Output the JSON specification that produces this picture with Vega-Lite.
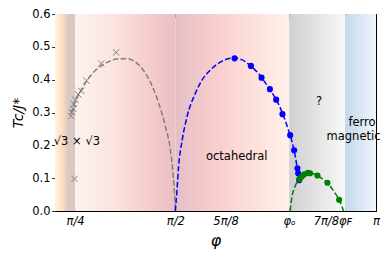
{
  "$schema": "https://vega.github.io/schema/vega-lite/v6.json",
  "width": 321,
  "height": 197,
  "autosize": {"type": "none"},
  "padding": {"left": 55, "top": 14, "right": 14, "bottom": 49},
  "config": {
    "view": {"stroke": null},
    "font": "DejaVu Sans",
    "axis": {
      "grid": false,
      "domainColor": "#000000",
      "domainWidth": 1,
      "tickColor": "#000000",
      "tickWidth": 0.8,
      "labelFontSize": 11.5,
      "labelColor": "#000000",
      "titleColor": "#000000",
      "labelFont": "DejaVu Sans",
      "titleFont": "DejaVu Sans",
      "titleFontWeight": "normal",
      "zindex": 1
    }
  },
  "datasets": {
    "regions": [
      {"region": "sqrt3", "start": 0.2, "end": 0.25},
      {"region": "low", "start": 0.25, "end": 0.5},
      {"region": "octa", "start": 0.5, "end": 0.7836},
      {"region": "unknown", "start": 0.7836, "end": 0.9229},
      {"region": "ferro", "start": 0.9229, "end": 1.0}
    ],
    "curves": [
      {"series": "gray", "phi": 0.240, "Tc": 0.295},
      {"series": "gray", "phi": 0.246, "Tc": 0.318},
      {"series": "gray", "phi": 0.252, "Tc": 0.338},
      {"series": "gray", "phi": 0.260, "Tc": 0.358},
      {"series": "gray", "phi": 0.270, "Tc": 0.378},
      {"series": "gray", "phi": 0.281, "Tc": 0.400},
      {"series": "gray", "phi": 0.298, "Tc": 0.425},
      {"series": "gray", "phi": 0.316, "Tc": 0.443},
      {"series": "gray", "phi": 0.336, "Tc": 0.456},
      {"series": "gray", "phi": 0.358, "Tc": 0.464},
      {"series": "gray", "phi": 0.380, "Tc": 0.464},
      {"series": "gray", "phi": 0.400, "Tc": 0.454},
      {"series": "gray", "phi": 0.413, "Tc": 0.440},
      {"series": "gray", "phi": 0.425, "Tc": 0.420},
      {"series": "gray", "phi": 0.438, "Tc": 0.392},
      {"series": "gray", "phi": 0.458, "Tc": 0.330},
      {"series": "gray", "phi": 0.475, "Tc": 0.258},
      {"series": "gray", "phi": 0.4876, "Tc": 0.186},
      {"series": "gray", "phi": 0.494, "Tc": 0.115},
      {"series": "gray", "phi": 0.498, "Tc": 0.054},
      {"series": "gray", "phi": 0.500, "Tc": 0.0},
      {"series": "blue", "phi": 0.500, "Tc": 0.0},
      {"series": "blue", "phi": 0.504, "Tc": 0.064},
      {"series": "blue", "phi": 0.508, "Tc": 0.135},
      {"series": "blue", "phi": 0.517, "Tc": 0.216},
      {"series": "blue", "phi": 0.529, "Tc": 0.287},
      {"series": "blue", "phi": 0.550, "Tc": 0.359},
      {"series": "blue", "phi": 0.567, "Tc": 0.400},
      {"series": "blue", "phi": 0.587, "Tc": 0.429},
      {"series": "blue", "phi": 0.610, "Tc": 0.452},
      {"series": "blue", "phi": 0.630, "Tc": 0.463},
      {"series": "blue", "phi": 0.648, "Tc": 0.466},
      {"series": "blue", "phi": 0.665, "Tc": 0.461},
      {"series": "blue", "phi": 0.687, "Tc": 0.443},
      {"series": "blue", "phi": 0.714, "Tc": 0.408},
      {"series": "blue", "phi": 0.734, "Tc": 0.372},
      {"series": "blue", "phi": 0.751, "Tc": 0.340},
      {"series": "blue", "phi": 0.767, "Tc": 0.298},
      {"series": "blue", "phi": 0.780, "Tc": 0.253},
      {"series": "blue", "phi": 0.792, "Tc": 0.205},
      {"series": "blue", "phi": 0.800, "Tc": 0.158},
      {"series": "blue", "phi": 0.805, "Tc": 0.120},
      {"series": "blue", "phi": 0.808, "Tc": 0.092},
      {"series": "green", "phi": 0.786, "Tc": 0.0},
      {"series": "green", "phi": 0.790, "Tc": 0.039},
      {"series": "green", "phi": 0.798, "Tc": 0.074},
      {"series": "green", "phi": 0.809, "Tc": 0.097},
      {"series": "green", "phi": 0.822, "Tc": 0.112},
      {"series": "green", "phi": 0.835, "Tc": 0.116},
      {"series": "green", "phi": 0.848, "Tc": 0.112},
      {"series": "green", "phi": 0.862, "Tc": 0.102},
      {"series": "green", "phi": 0.879, "Tc": 0.085},
      {"series": "green", "phi": 0.895, "Tc": 0.060},
      {"series": "green", "phi": 0.908, "Tc": 0.034},
      {"series": "green", "phi": 0.914, "Tc": 0.018},
      {"series": "green", "phi": 0.919, "Tc": 0.0}
    ],
    "points": [
      {"series": "gray", "phi": 0.2405, "Tc": 0.289},
      {"series": "gray", "phi": 0.2420, "Tc": 0.301},
      {"series": "gray", "phi": 0.2455, "Tc": 0.311},
      {"series": "gray", "phi": 0.2470, "Tc": 0.326},
      {"series": "gray", "phi": 0.2512, "Tc": 0.338},
      {"series": "gray", "phi": 0.2580, "Tc": 0.355},
      {"series": "gray", "phi": 0.2654, "Tc": 0.366},
      {"series": "gray", "phi": 0.2786, "Tc": 0.397},
      {"series": "gray", "phi": 0.3152, "Tc": 0.449},
      {"series": "gray", "phi": 0.3525, "Tc": 0.483},
      {"series": "gray", "phi": 0.2488, "Tc": 0.098},
      {"series": "blue", "phi": 0.6475, "Tc": 0.465},
      {"series": "blue", "phi": 0.6883, "Tc": 0.442},
      {"series": "blue", "phi": 0.7147, "Tc": 0.406},
      {"series": "blue", "phi": 0.7356, "Tc": 0.371},
      {"series": "blue", "phi": 0.7512, "Tc": 0.339},
      {"series": "blue", "phi": 0.7669, "Tc": 0.295},
      {"series": "blue", "phi": 0.7861, "Tc": 0.231},
      {"series": "blue", "phi": 0.7960, "Tc": 0.185},
      {"series": "blue", "phi": 0.8042, "Tc": 0.130},
      {"series": "blue", "phi": 0.8060, "Tc": 0.115},
      {"series": "blue", "phi": 0.8085, "Tc": 0.094},
      {"series": "green", "phi": 0.8092, "Tc": 0.097},
      {"series": "green", "phi": 0.8152, "Tc": 0.105},
      {"series": "green", "phi": 0.8216, "Tc": 0.112},
      {"series": "green", "phi": 0.8301, "Tc": 0.116},
      {"series": "green", "phi": 0.8358, "Tc": 0.115},
      {"series": "green", "phi": 0.8540, "Tc": 0.108},
      {"series": "green", "phi": 0.8789, "Tc": 0.086},
      {"series": "green", "phi": 0.9080, "Tc": 0.034}
    ],
    "labelsLeft": [
      {"label": "√3 × √3", "phi": 0.197, "Tc": 0.211}
    ],
    "labelsCenter": [
      {"label": "octahedral", "phi": 0.653, "Tc": 0.164},
      {"label": "?", "phi": 0.858, "Tc": 0.332},
      {"label": "ferro", "phi": 0.965, "Tc": 0.268},
      {"label": "magnetic", "phi": 0.944, "Tc": 0.226}
    ]
  },
  "layer": [
    {
      "data": {"name": "regions"},
      "transform": [{"filter": "datum.region == 'sqrt3'"}],
      "mark": {"type": "rect", "color": {"gradient": "linear", "x1": 0, "y1": 0, "x2": 1, "y2": 0, "stops": [
        {"offset": 0, "color": "#fdf3df"},
        {"offset": 0.3, "color": "#fce3c5"},
        {"offset": 0.5, "color": "#f1d3bd"},
        {"offset": 0.62, "color": "#dcc9c3"},
        {"offset": 1, "color": "#d8c7c3"}]}},
      "encoding": {
        "x": {"field": "start", "type": "quantitative", "scale": {"domain": [0.2, 1.0], "nice": false, "zero": false}, "axis": null},
        "x2": {"field": "end"},
        "y": {"datum": 0, "type": "quantitative", "scale": {"domain": [0, 0.6], "nice": false}, "axis": null},
        "y2": {"datum": 0.6}
      }
    },
    {
      "data": {"name": "regions"},
      "transform": [{"filter": "datum.region == 'low'"}],
      "mark": {"type": "rect", "color": {"gradient": "linear", "x1": 0, "y1": 0, "x2": 1, "y2": 0, "stops": [
        {"offset": 0, "color": "#fdf2ee"},
        {"offset": 0.4, "color": "#fbe3de"},
        {"offset": 0.7, "color": "#f6cfcd"},
        {"offset": 0.88, "color": "#f1c4c7"},
        {"offset": 1, "color": "#e9c0c5"}]}},
      "encoding": {
        "x": {"field": "start", "type": "quantitative", "axis": null},
        "x2": {"field": "end"},
        "y": {"datum": 0, "type": "quantitative", "axis": null},
        "y2": {"datum": 0.6}
      }
    },
    {
      "data": {"name": "regions"},
      "transform": [{"filter": "datum.region == 'octa'"}],
      "mark": {"type": "rect", "color": {"gradient": "linear", "x1": 0, "y1": 0, "x2": 1, "y2": 0, "stops": [
        {"offset": 0, "color": "#e3c0c6"},
        {"offset": 0.3, "color": "#f6cbcb"},
        {"offset": 0.6, "color": "#fcdcd6"},
        {"offset": 1, "color": "#fff1ea"}]}},
      "encoding": {
        "x": {"field": "start", "type": "quantitative", "axis": null},
        "x2": {"field": "end"},
        "y": {"datum": 0, "type": "quantitative", "axis": null},
        "y2": {"datum": 0.6}
      }
    },
    {
      "data": {"name": "regions"},
      "transform": [{"filter": "datum.region == 'unknown'"}],
      "mark": {"type": "rect", "color": {"gradient": "linear", "x1": 0, "y1": 0, "x2": 1, "y2": 0, "stops": [
        {"offset": 0, "color": "#cfcfcf"},
        {"offset": 1, "color": "#f8f8f8"}]}},
      "encoding": {
        "x": {"field": "start", "type": "quantitative", "axis": null},
        "x2": {"field": "end"},
        "y": {"datum": 0, "type": "quantitative", "axis": null},
        "y2": {"datum": 0.6}
      }
    },
    {
      "data": {"name": "regions"},
      "transform": [{"filter": "datum.region == 'ferro'"}],
      "mark": {"type": "rect", "color": {"gradient": "linear", "x1": 0, "y1": 0, "x2": 1, "y2": 0, "stops": [
        {"offset": 0, "color": "#c3d8ea"},
        {"offset": 1, "color": "#f0f6fc"}]}},
      "encoding": {
        "x": {"field": "start", "type": "quantitative", "axis": null},
        "x2": {"field": "end"},
        "y": {"datum": 0, "type": "quantitative", "axis": null},
        "y2": {"datum": 0.6}
      }
    },
    {
      "data": {"name": "curves"},
      "mark": {"type": "line", "interpolate": "monotone", "strokeWidth": 1.5, "strokeDash": [5.5, 2.4]},
      "encoding": {
        "x": {"field": "phi", "type": "quantitative",
          "axis": {"orient": "bottom", "title": "φ", "titleFontSize": 16, "titleFontStyle": "italic", "titlePadding": 5,
            "values": [0.25, 0.5, 0.625, 0.7836, 0.875, 0.9229, 1.0],
            "labelExpr": "datum.value < 0.3 ? 'π/4' : datum.value < 0.55 ? 'π/2' : datum.value < 0.7 ? '5π/8' : datum.value < 0.8 ? 'φₒ' : datum.value < 0.9 ? '7π/8' : datum.value < 0.95 ? 'φꜰ' : 'π'",
            "labelFontStyle": "italic", "labelFlush": false, "labelOverlap": false, "tickSize": -3.5, "labelPadding": 8}},
        "y": {"field": "Tc", "type": "quantitative",
          "axis": {"orient": "left", "title": "Tc/J*", "titleFontSize": 14, "titleFontStyle": "italic", "titlePadding": 6,
            "values": [0, 0.1, 0.2, 0.3, 0.4, 0.5, 0.6], "format": ".1f", "tickSize": 3.5, "labelPadding": 1.5}},
        "color": {"field": "series", "type": "nominal", "scale": {"domain": ["gray", "blue", "green"], "range": ["#808080", "#0000ff", "#008000"]}, "legend": null},
        "detail": {"field": "series"}
      }
    },
    {
      "data": {"name": "points"},
      "transform": [{"filter": "datum.series == 'gray'"}],
      "mark": {"type": "point", "shape": "M-1,-1L1,1M1,-1L-1,1", "filled": false, "stroke": "#808080", "strokeWidth": 1, "size": 40, "opacity": 1},
      "encoding": {
        "x": {"field": "phi", "type": "quantitative", "axis": null},
        "y": {"field": "Tc", "type": "quantitative", "axis": null}
      }
    },
    {
      "data": {"name": "points"},
      "transform": [{"filter": "datum.series != 'gray'"}],
      "mark": {"type": "circle", "size": 38, "opacity": 1},
      "encoding": {
        "x": {"field": "phi", "type": "quantitative",
          "axis": {"orient": "top", "title": null, "labels": false, "values": [0.25, 0.5, 0.625, 0.7836, 0.875, 0.9229, 1.0], "tickSize": -3.5}},
        "y": {"field": "Tc", "type": "quantitative",
          "axis": {"orient": "right", "title": null, "labels": false, "values": [0, 0.1, 0.2, 0.3, 0.4, 0.5, 0.6], "tickSize": -3.5}},
        "color": {"field": "series", "type": "nominal", "legend": null}
      }
    },
    {
      "data": {"name": "labelsLeft"},
      "mark": {"type": "text", "align": "left", "baseline": "middle", "fontSize": 11.5, "font": "DejaVu Sans", "color": "#000000"},
      "encoding": {
        "x": {"field": "phi", "type": "quantitative", "axis": null},
        "y": {"field": "Tc", "type": "quantitative", "axis": null},
        "text": {"field": "label"}
      }
    },
    {
      "data": {"name": "labelsCenter"},
      "mark": {"type": "text", "align": "center", "baseline": "middle", "fontSize": 11.5, "font": "DejaVu Sans", "color": "#000000"},
      "encoding": {
        "x": {"field": "phi", "type": "quantitative", "axis": null},
        "y": {"field": "Tc", "type": "quantitative", "axis": null},
        "text": {"field": "label"}
      }
    }
  ],
  "resolve": {"axis": {"x": "independent", "y": "independent"}}
}
